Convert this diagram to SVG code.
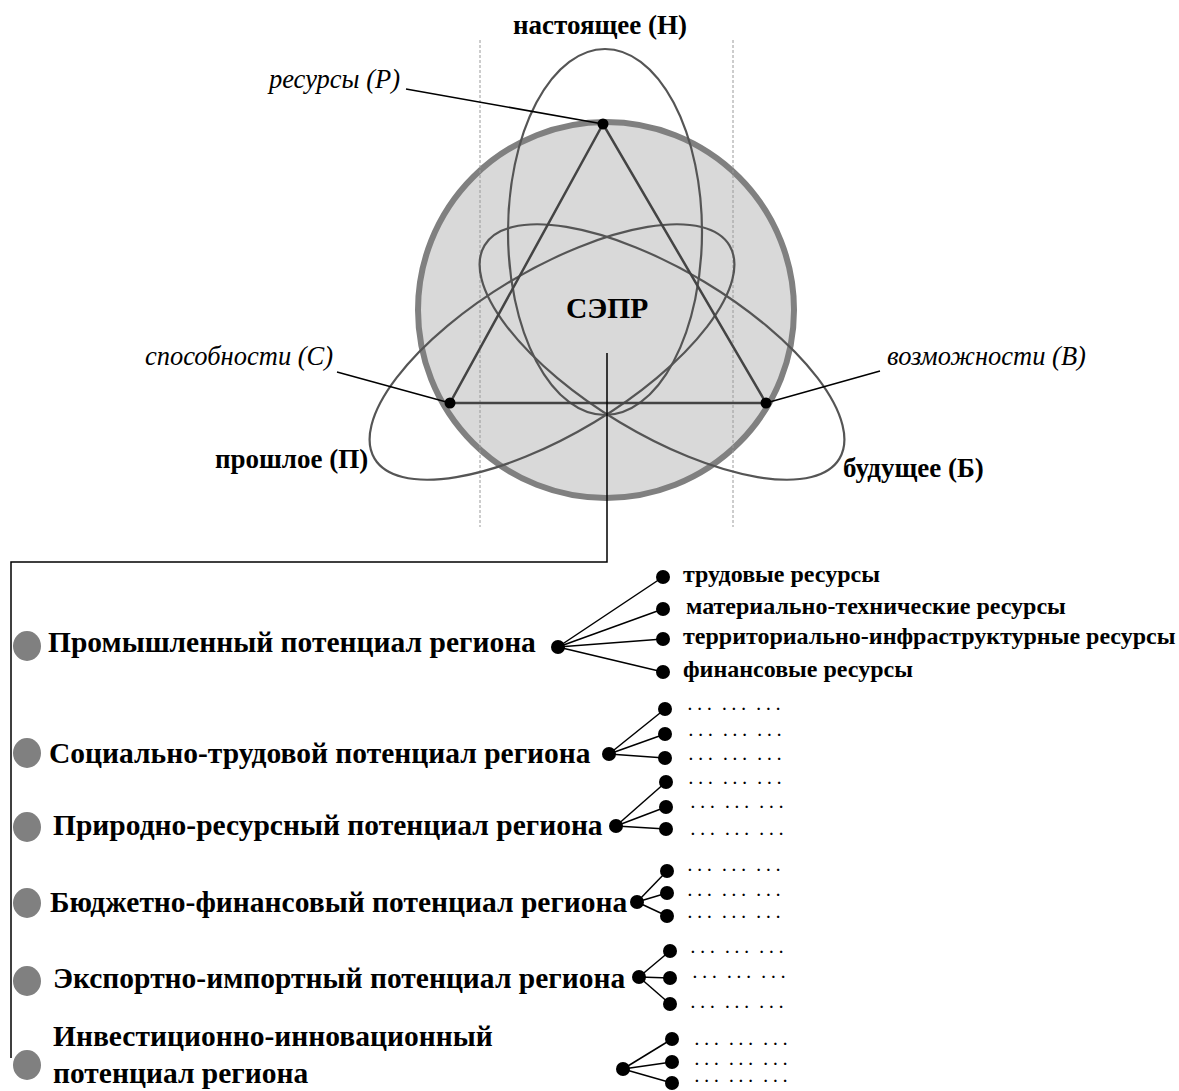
<svg xmlns="http://www.w3.org/2000/svg" width="1179" height="1091" viewBox="0 0 1179 1091">
<style>
text{font-family:"Liberation Serif","Times New Roman",serif;fill:#000}
.b{font-weight:bold}
.i{font-style:italic}
.lb{font-size:27px;font-weight:bold}
.li{font-size:26.5px;font-style:italic}
.ell{fill:none;stroke:#555;stroke-width:2.2}
.tri{fill:none;stroke:#444;stroke-width:2.5}
.ln{fill:none;stroke:#000;stroke-width:1.5}
.dash{stroke:#9a9a9a;stroke-width:1;stroke-dasharray:3,2}
.dot{fill:#000}
.bul{fill:#808080}
.row{font-size:29.5px;font-weight:bold}
.sub{font-size:24px;font-weight:bold}
.dd{font-size:15px;font-weight:bold;letter-spacing:5.95px;word-spacing:-4.4px}
</style>
<rect width="1179" height="1091" fill="#fff"/>
<g id="sepr">
<circle cx="606" cy="310" r="188" fill="#d9d9d9" stroke="#808080" stroke-width="6"/>
<line class="dash" x1="480" y1="40" x2="480" y2="527"/>
<line class="dash" x1="733" y1="40" x2="733" y2="527"/>
<ellipse class="ell" cx="605" cy="232" rx="97" ry="183"/>
<ellipse class="ell" cx="0" cy="0" rx="207" ry="82" transform="translate(662 352) rotate(31)"/>
<ellipse class="ell" cx="0" cy="0" rx="207" ry="82" transform="translate(552 352) rotate(-31)"/>
<polygon class="tri" points="603,124 450,403 766,403"/>
<text class="b" x="566" y="318" font-size="29.5">СЭПР</text>
</g>
<g id="labels">
<text class="lb" x="600" y="34" text-anchor="middle">настоящее (Н)</text>
<text class="li" x="400" y="88" text-anchor="end">ресурсы (Р)</text>
<text class="li" x="145" y="365">способности (С)</text>
<text class="li" x="887" y="365">возможности (В)</text>
<text class="lb" x="215" y="468">прошлое (П)</text>
<text class="lb" x="843" y="477">будущее (Б)</text>
</g>
<g id="connectors">
<line class="ln" x1="406" y1="89" x2="603" y2="124"/>
<line class="ln" x1="337" y1="372" x2="450" y2="403"/>
<line class="ln" x1="880" y1="371" x2="766" y2="403"/>
<polyline class="ln" points="607,353 607,562 11,562 11,1058"/>
<line class="ln" x1="558" y1="647" x2="663" y2="577"/>
<line class="ln" x1="558" y1="647" x2="663" y2="609"/>
<line class="ln" x1="558" y1="647" x2="663" y2="639"/>
<line class="ln" x1="558" y1="647" x2="663" y2="672"/>
<line class="ln" x1="609" y1="754" x2="665" y2="709"/>
<line class="ln" x1="609" y1="754" x2="665" y2="734"/>
<line class="ln" x1="609" y1="754" x2="665" y2="758"/>
<line class="ln" x1="616" y1="826" x2="666" y2="782"/>
<line class="ln" x1="616" y1="826" x2="666" y2="807"/>
<line class="ln" x1="616" y1="826" x2="666" y2="829"/>
<line class="ln" x1="637" y1="902" x2="667" y2="871"/>
<line class="ln" x1="637" y1="902" x2="667" y2="893"/>
<line class="ln" x1="637" y1="902" x2="667" y2="916"/>
<line class="ln" x1="639" y1="977" x2="670" y2="951"/>
<line class="ln" x1="639" y1="977" x2="670" y2="978"/>
<line class="ln" x1="639" y1="977" x2="670" y2="1004"/>
<line class="ln" x1="623" y1="1069" x2="672" y2="1039"/>
<line class="ln" x1="623" y1="1069" x2="672" y2="1062"/>
<line class="ln" x1="623" y1="1069" x2="672" y2="1083"/>
</g>
<g id="vertices">
<circle class="dot" cx="603" cy="124" r="5.5"/>
<circle class="dot" cx="450" cy="403" r="5.5"/>
<circle class="dot" cx="766" cy="403" r="5.5"/>
</g>
<g id="row1">
<ellipse class="bul" cx="27" cy="646" rx="14" ry="15"/>
<text class="row" x="48" y="652">Промышленный потенциал региона</text>
<circle class="dot" cx="558" cy="647" r="7"/>
<circle class="dot" cx="663" cy="577" r="7"/>
<circle class="dot" cx="663" cy="609" r="7"/>
<circle class="dot" cx="663" cy="639" r="7"/>
<circle class="dot" cx="663" cy="672" r="7"/>
<text class="sub" x="683" y="582">трудовые ресурсы</text>
<text class="sub" x="686" y="614">материально-технические ресурсы</text>
<text class="sub" x="683" y="644">территориально-инфраструктурные ресурсы</text>
<text class="sub" x="683" y="677">финансовые ресурсы</text>
</g>
<g id="row2">
<ellipse class="bul" cx="27" cy="753" rx="14" ry="15"/>
<text class="row" x="49" y="763">Социально-трудовой потенциал региона</text>
<circle class="dot" cx="609" cy="754" r="7"/>
<circle class="dot" cx="665" cy="709" r="7"/>
<circle class="dot" cx="665" cy="734" r="7"/>
<circle class="dot" cx="665" cy="758" r="7"/>
<text class="dd" x="688" y="709.5">... ... ...</text>
<text class="dd" x="689" y="736">... ... ...</text>
<text class="dd" x="689" y="760">... ... ...</text>
</g>
<g id="row3">
<ellipse class="bul" cx="27" cy="827" rx="14" ry="15"/>
<text class="row" x="53" y="835">Природно-ресурсный потенциал региона</text>
<circle class="dot" cx="616" cy="826" r="7"/>
<circle class="dot" cx="666" cy="782" r="7"/>
<circle class="dot" cx="666" cy="807" r="7"/>
<circle class="dot" cx="666" cy="829" r="7"/>
<text class="dd" x="689" y="784">... ... ...</text>
<text class="dd" x="691" y="808">... ... ...</text>
<text class="dd" x="691" y="835">... ... ...</text>
</g>
<g id="row4">
<ellipse class="bul" cx="27" cy="903" rx="14" ry="15"/>
<text class="row" x="50" y="912">Бюджетно-финансовый потенциал региона</text>
<circle class="dot" cx="637" cy="902" r="7"/>
<circle class="dot" cx="667" cy="871" r="7"/>
<circle class="dot" cx="667" cy="893" r="7"/>
<circle class="dot" cx="667" cy="916" r="7"/>
<text class="dd" x="688" y="871">... ... ...</text>
<text class="dd" x="688" y="895.5">... ... ...</text>
<text class="dd" x="688" y="918">... ... ...</text>
</g>
<g id="row5">
<ellipse class="bul" cx="27" cy="981" rx="14" ry="15"/>
<text class="row" x="53" y="988">Экспортно-импортный потенциал региона</text>
<circle class="dot" cx="639" cy="977" r="7"/>
<circle class="dot" cx="670" cy="951" r="7"/>
<circle class="dot" cx="670" cy="978" r="7"/>
<circle class="dot" cx="670" cy="1004" r="7"/>
<text class="dd" x="691" y="953">... ... ...</text>
<text class="dd" x="693" y="978">... ... ...</text>
<text class="dd" x="691" y="1007.5">... ... ...</text>
</g>
<g id="row6">
<ellipse class="bul" cx="27" cy="1065" rx="14" ry="15"/>
<text class="row" x="53" y="1046">Инвестиционно-инновационный</text>
<text class="row" x="53" y="1083">потенциал региона</text>
<circle class="dot" cx="623" cy="1069" r="7"/>
<circle class="dot" cx="672" cy="1039" r="7"/>
<circle class="dot" cx="672" cy="1062" r="7"/>
<circle class="dot" cx="672" cy="1083" r="7"/>
<text class="dd" x="695" y="1045">... ... ...</text>
<text class="dd" x="695" y="1065">... ... ...</text>
<text class="dd" x="695" y="1082">... ... ...</text>
</g>
</svg>
